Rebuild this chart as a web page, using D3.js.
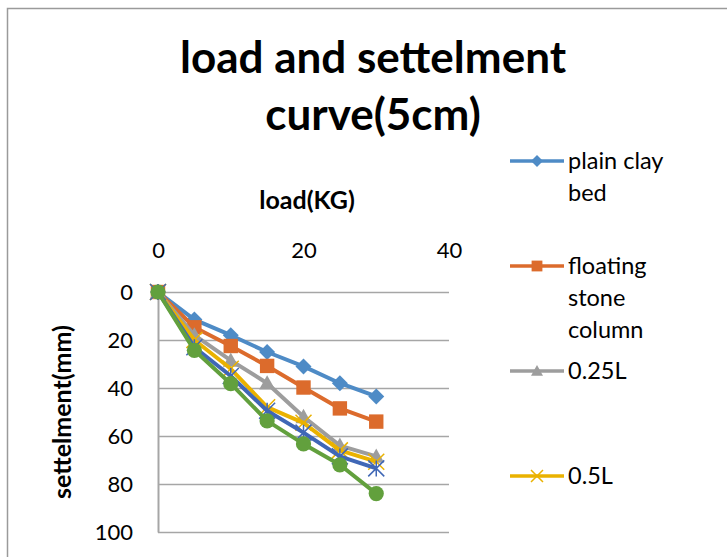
<!DOCTYPE html>
<html>
<head>
<meta charset="utf-8">
<script src="https://cdn.jsdelivr.net/npm/d3@7"></script>
<style>
  body { margin: 0; background: #fff; }
  svg { display: block; }
</style>
</head>
<body>
<svg id="chart" width="727" height="557"></svg>
<script>
// load (KG) on x, settlement (mm) on y
const loads = [0, 5, 10, 15, 20, 25, 30];
const plainClayBed = [0, 11.5, 18, 25, 31, 38, 43.5];
const floatingStoneColumn = [0, 14.7, 22.5, 30.8, 39.8, 48.5, 54];
const col025L = [0, 18, 28.5, 38, 52, 64, 68.5];
const col05L = [0, 20, 32, 48, 54.5, 66, 70.7];
const col075L = [0, 23, 35, 49.5, 58.6, 68.5, 73.5];
const col1L = [0, 24.3, 38.2, 53.7, 63.3, 72, 84];
const seriesNames = ["plain clay bed", "floating stone column", "0.25L", "0.5L", "0.75L", "L"];
const xTicks = [0, 20, 40];
const yTicks = [0, 20, 40, 60, 80, 100];

const series = [
    {name: seriesNames[0], values: plainClayBed, color: "#4e8bc6", marker: "diamond"},
    {name: seriesNames[1], values: floatingStoneColumn, color: "#dc6b2c", marker: "square"},
    {name: seriesNames[2], values: col025L, color: "#9d9d9d", marker: "triangle"},
    {name: seriesNames[3], values: col05L, color: "#eab200", marker: "x"},
    {name: seriesNames[4], values: col075L, color: "#3f67b6", marker: "star"},
    {name: seriesNames[5], values: col1L, color: "#62a03d", marker: "circle"}
];

const W = 727, H = 557;
const font = 'Lato, "Open Sans", sans-serif';
const svg = d3.select("#chart");

// chart frame (only left and top edges are inside the picture)
svg.append("path")
    .attr("d", "M7.5," + H + " V8.5 H" + W)
    .attr("fill", "none")
    .attr("stroke", "#9a9a9a")
    .attr("stroke-width", 1.5);

const x = d3.scaleLinear().domain([0, 40]).range([158, 449]);
const y = d3.scaleLinear().domain([0, 100]).range([292, 532]);

// title
svg.append("text")
    .attr("x", 373).attr("y", 73)
    .attr("text-anchor", "middle")
    .style("font", "bold 44px " + font)
    .text("load and settelment");
svg.append("text")
    .attr("x", 373).attr("y", 130)
    .attr("text-anchor", "middle")
    .style("font", "bold 44px " + font)
    .text("curve(5cm)");

// gridlines
svg.append("g")
    .attr("transform", "translate(" + x(0) + ",0)")
    .call(d3.axisLeft(y).tickValues(yTicks).tickSize(-(x(40) - x(0))).tickFormat(""))
    .call(g => g.select(".domain").remove())
    .call(g => g.selectAll("line").attr("stroke", "#a6a6a6").attr("stroke-width", 1.5));

// y axis (reversed, values grow downward)
svg.append("g")
    .attr("transform", "translate(" + x(0) + ",0)")
    .call(d3.axisLeft(y).tickValues(yTicks).tickSizeInner(0).tickSizeOuter(0).tickPadding(25))
    .call(g => g.select(".domain").attr("stroke", "#a6a6a6").attr("stroke-width", 2))
    .call(g => g.selectAll("text").style("font", "22px " + font).attr("fill", "#000"));

// x axis on top
svg.append("g")
    .attr("transform", "translate(0," + y(0) + ")")
    .call(d3.axisTop(x).tickValues(xTicks).tickSize(0).tickPadding(34))
    .call(g => g.select(".domain").remove())
    .call(g => g.selectAll("text").style("font", "22px " + font).attr("fill", "#000"));

// axis titles
svg.append("text")
    .attr("x", 307).attr("y", 209)
    .attr("text-anchor", "middle")
    .style("font", "bold 25px " + font)
    .text("load(KG)");
svg.append("text")
    .attr("transform", "translate(71,412) rotate(-90)")
    .attr("text-anchor", "middle")
    .style("font", "bold 25px " + font)
    .text("settelment(mm)");

function drawMarker(g, type, color, s) {
    const h = s / 2;
    if (type === "diamond") {
        g.append("path").attr("d", "M0," + (-h) + "L" + h + ",0L0," + h + "L" + (-h) + ",0Z").attr("fill", color);
    } else if (type === "square") {
        g.append("rect").attr("x", -h * 0.9).attr("y", -h * 0.9).attr("width", s * 0.9).attr("height", s * 0.9).attr("fill", color);
    } else if (type === "triangle") {
        g.append("path").attr("d", "M0," + (-h) + "L" + h + "," + (h * 0.8) + "L" + (-h) + "," + (h * 0.8) + "Z").attr("fill", color);
    } else if (type === "circle") {
        g.append("circle").attr("r", h * 0.95).attr("fill", color);
    } else if (type === "x") {
        g.append("path").attr("d", "M" + (-h) + "," + (-h) + "L" + h + "," + h + "M" + (-h) + "," + h + "L" + h + "," + (-h))
            .attr("stroke", color).attr("stroke-width", 1.5).attr("fill", "none");
    } else if (type === "star") {
        g.append("path").attr("d", "M" + (-h) + "," + (-h) + "L" + h + "," + h + "M" + (-h) + "," + h + "L" + h + "," + (-h) + "M0," + (-h) + "L0," + h)
            .attr("stroke", color).attr("stroke-width", 1.5).attr("fill", "none");
    }
}

const line = d3.line()
    .x((d, i) => x(loads[i]))
    .y(d => y(d));

const plot = svg.append("g");
series.forEach(s => {
    plot.append("path")
        .datum(s.values)
        .attr("d", line)
        .attr("fill", "none")
        .attr("stroke", s.color)
        .attr("stroke-width", 4)
        .attr("stroke-linejoin", "round");
    s.values.forEach((v, i) => {
        const g = plot.append("g").attr("transform", "translate(" + x(loads[i]) + "," + y(v) + ")");
        drawMarker(g, s.marker, s.color, 16);
    });
});

// legend: entries continue below the visible frame, only those inside are drawn
const legend = svg.append("g");
const legendFont = "23.5px " + font;
series.forEach((s, i) => {
    const cy = 161 + i * 105;
    if (cy > H - 20) return;
    const g = legend.append("g").attr("transform", "translate(0," + cy + ")");
    g.append("line").attr("x1", 510).attr("x2", 564).attr("y1", 0).attr("y2", 0)
        .attr("stroke", s.color).attr("stroke-width", 3.5);
    const m = g.append("g").attr("transform", "translate(537,0)");
    drawMarker(m, s.marker, s.color, 12);

    // wrap legend text into the legend width
    const words = s.name.split(" ");
    const lines = [];
    let cur = "";
    const probe = g.append("text").style("font", legendFont);
    words.forEach(w => {
        const test = cur ? cur + " " + w : w;
        probe.text(test);
        if (probe.node().getComputedTextLength() > 115 && cur) {
            lines.push(cur);
            cur = w;
        } else {
            cur = test;
        }
    });
    lines.push(cur);
    probe.remove();
    lines.forEach((t, j) => {
        g.append("text")
            .attr("x", 568).attr("y", 8 + j * 32)
            .style("font", legendFont)
            .text(t);
    });
});
</script>
</body>
</html>
